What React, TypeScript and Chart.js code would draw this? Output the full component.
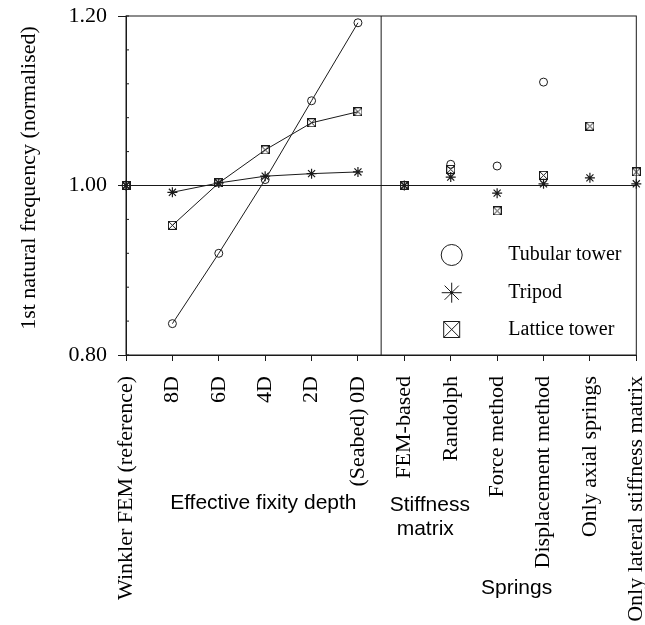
import React, { useEffect, useRef } from 'react';
import { Chart, registerables } from 'chart.js';

Chart.register(...registerables);

// ---- data ----
const categories = [
  'Winkler FEM (reference)',
  '8D',
  '6D',
  '4D',
  '2D',
  '(Seabed) 0D',
  'FEM-based',
  'Randolph',
  'Force method',
  'Displacement method',
  'Only axial springs',
  'Only lateral stiffness matrix',
];
const tubularTower = [1.0, 0.837, 0.92, 1.007, 1.1, 1.192, 1.0, 1.025, 1.023, 1.122, null, null];
const tripod = [1.0, 0.992, 1.003, 1.011, 1.014, 1.016, 1.0, 1.01, 0.991, 1.002, 1.009, 1.002];
const latticeTower = [1.0, 0.953, 1.003, 1.042, 1.074, 1.087, 1.0, 1.019, 0.97, 1.012, 1.07, 1.016];
const seriesNames = ['Tubular tower', 'Tripod', 'Lattice tower'];
const yTickLabels = ['0.80', '1.00', '1.20'];
const yAxisTitle = '1st natural frequency (normalised)';
const groupTitles = ['Effective fixity depth', 'Stiffness\nmatrix', 'Springs'];

const SERIF = '"Liberation Serif", "Times New Roman", serif';
const SANS = '"Liberation Sans", Arial, sans-serif';
const INK = '#1a1a1a';

function makeBoxX(size: number): HTMLCanvasElement {
  const c = document.createElement('canvas');
  c.width = size;
  c.height = size;
  const g = c.getContext('2d')!;
  g.strokeStyle = INK;
  g.lineWidth = 1;
  g.strokeRect(0.5, 0.5, size - 1, size - 1);
  g.beginPath();
  g.moveTo(0.5, 0.5);
  g.lineTo(size - 0.5, size - 0.5);
  g.moveTo(size - 0.5, 0.5);
  g.lineTo(0.5, size - 0.5);
  g.stroke();
  return c;
}

const toPoints = (arr: (number | null)[]) => arr.map((v, i) => ({ x: i, y: v }));

const segmentStyle = {
  borderColor: (ctx: any) =>
    ctx.p0DataIndex >= 1 && ctx.p1DataIndex <= 5 ? INK : 'rgba(0,0,0,0)',
};

const isMajor = (v: number) => yTickLabels.includes(Number(v).toFixed(2));

const decorPlugin = {
  id: 'decor',
  beforeDatasetsDraw(chart: any) {
    const { ctx, chartArea: a, scales } = chart;
    const xs = scales.x;
    const ys = scales.y;
    ctx.save();
    ctx.strokeStyle = INK;
    ctx.lineWidth = 1;
    // frame
    ctx.strokeRect(a.left, a.top, a.right - a.left, a.bottom - a.top);
    // reference line at 1.00
    const y1 = ys.getPixelForValue(1.0);
    ctx.beginPath();
    ctx.moveTo(a.left, y1);
    ctx.lineTo(a.right, y1);
    // divider between groups
    const xd = xs.getPixelForValue(5.5);
    ctx.moveTo(xd, a.top);
    ctx.lineTo(xd, a.bottom);
    // inward y ticks
    ys.ticks.forEach((t: any) => {
      const py = ys.getPixelForValue(t.value);
      ctx.moveTo(a.left, py);
      ctx.lineTo(a.left + 3, py);
    });
    ctx.stroke();
    ctx.restore();
  },
  afterDraw(chart: any) {
    const { ctx, scales } = chart;
    const xs = scales.x;
    ctx.save();
    ctx.fillStyle = '#000';
    // y axis title
    ctx.save();
    ctx.translate(29, 178);
    ctx.rotate(-Math.PI / 2);
    ctx.font = `22px ${SERIF}`;
    ctx.textAlign = 'center';
    ctx.textBaseline = 'middle';
    ctx.fillText(yAxisTitle, 0, 0);
    ctx.restore();

    // group titles
    ctx.font = `21px ${SANS}`;
    ctx.textAlign = 'center';
    ctx.textBaseline = 'middle';
    ctx.fillText(groupTitles[0], xs.getPixelForValue(2.96), 503);
    const sm = groupTitles[1].split('\n');
    ctx.fillText(sm[0], xs.getPixelForValue(6.55), 505);
    ctx.fillText(sm[1], xs.getPixelForValue(6.45), 529);
    ctx.fillText(groupTitles[2], xs.getPixelForValue(8.42), 588);

    // legend
    const mx = 451.7;
    const rows = [255, 292.7, 329.5];
    ctx.strokeStyle = INK;
    ctx.lineWidth = 1;
    // circle
    ctx.beginPath();
    ctx.arc(mx, rows[0], 10.5, 0, Math.PI * 2);
    ctx.stroke();
    // asterisk
    const r = 10;
    const d = r * Math.SQRT1_2;
    ctx.beginPath();
    ctx.moveTo(mx - r, rows[1]);
    ctx.lineTo(mx + r, rows[1]);
    ctx.moveTo(mx, rows[1] - r);
    ctx.lineTo(mx, rows[1] + r);
    ctx.moveTo(mx - d, rows[1] - d);
    ctx.lineTo(mx + d, rows[1] + d);
    ctx.moveTo(mx + d, rows[1] - d);
    ctx.lineTo(mx - d, rows[1] + d);
    ctx.stroke();
    ctx.beginPath();
    ctx.arc(mx, rows[1], 1.5, 0, Math.PI * 2);
    ctx.fillStyle = INK;
    ctx.fill();
    // box with X
    const h = 8;
    ctx.beginPath();
    ctx.rect(mx - h, rows[2] - h, 2 * h, 2 * h);
    ctx.moveTo(mx - h, rows[2] - h);
    ctx.lineTo(mx + h, rows[2] + h);
    ctx.moveTo(mx + h, rows[2] - h);
    ctx.lineTo(mx - h, rows[2] + h);
    ctx.stroke();
    // labels
    ctx.fillStyle = '#000';
    ctx.font = `20px ${SERIF}`;
    ctx.textAlign = 'left';
    ctx.textBaseline = 'middle';
    seriesNames.forEach((n, i) => ctx.fillText(n, 508.3, rows[i]));
    ctx.restore();
  },
};

export default function App() {
  const ref = useRef<HTMLCanvasElement | null>(null);

  useEffect(() => {
    if (!ref.current) return;
    const boxSmall = makeBoxX(9);
    const chart = new Chart(ref.current, {
      type: 'line',
      data: {
        datasets: [
          {
            label: seriesNames[0],
            data: toPoints(tubularTower),
            borderColor: INK,
            borderWidth: 1,
            backgroundColor: 'rgba(0,0,0,0)',
            pointStyle: 'circle',
            pointRadius: 4,
            pointBorderColor: INK,
            pointBackgroundColor: 'rgba(0,0,0,0)',
            pointBorderWidth: 1,
            segment: segmentStyle,
            spanGaps: false,
            clip: false,
          },
          {
            label: seriesNames[1],
            data: toPoints(tripod),
            borderColor: INK,
            borderWidth: 1,
            backgroundColor: 'rgba(0,0,0,0)',
            pointStyle: 'star',
            pointRadius: 5,
            pointBorderColor: INK,
            pointBorderWidth: 1.2,
            segment: segmentStyle,
            clip: false,
          },
          {
            label: seriesNames[2],
            data: toPoints(latticeTower),
            borderColor: INK,
            borderWidth: 1,
            backgroundColor: 'rgba(0,0,0,0)',
            pointStyle: boxSmall,
            pointRadius: 4.5,
            segment: segmentStyle,
            clip: false,
          },
        ],
      },
      options: {
        animation: false,
        responsive: false,
        events: [],
        layout: { padding: { top: 16, right: 8.7, left: 0, bottom: 0 } },
        plugins: {
          legend: { display: false },
          tooltip: { enabled: false },
        },
        scales: {
          x: {
            type: 'linear',
            min: 0,
            max: 11,
            afterBuildTicks: (s: any) => {
              s.ticks = categories.map((_, i) => ({ value: i }));
            },
            afterFit: (s: any) => {
              s.height = 270;
              s.paddingLeft = 0;
              s.paddingRight = 0;
            },
            ticks: {
              autoSkip: false,
              minRotation: 90,
              maxRotation: 90,
              padding: 15,
              color: '#000',
              font: { family: SERIF, size: 22 },
              callback: (v: any) => categories[Math.round(Number(v))] ?? '',
            },
            grid: {
              display: true,
              drawOnChartArea: false,
              drawTicks: true,
              tickLength: 6,
              color: INK,
            },
            border: { display: true, color: INK },
          },
          y: {
            type: 'linear',
            min: 0.8,
            max: 1.2,
            afterFit: (s: any) => {
              s.width = 126;
              s.paddingTop = 0;
              s.paddingBottom = 0;
            },
            ticks: {
              stepSize: 0.04,
              autoSkip: false,
              padding: 11,
              color: '#000',
              font: { family: SERIF, size: 22 },
              callback: (v: any) => {
                const s = Number(v).toFixed(2);
                return yTickLabels.includes(s) ? s : '';
              },
            },
            grid: {
              display: true,
              drawOnChartArea: false,
              drawTicks: true,
              tickLength: 8,
              color: (ctx: any) => (ctx.tick && isMajor(ctx.tick.value) ? INK : 'rgba(0,0,0,0)'),
            },
            border: { display: true, color: INK },
          },
        },
      },
      plugins: [decorPlugin],
    } as any);
    return () => chart.destroy();
  }, []);

  return (
    <div style={{ position: 'absolute', left: 0, top: 0, width: 645, height: 625 }}>
      <canvas ref={ref} width={645} height={625} style={{ display: 'block' }} />
    </div>
  );
}
